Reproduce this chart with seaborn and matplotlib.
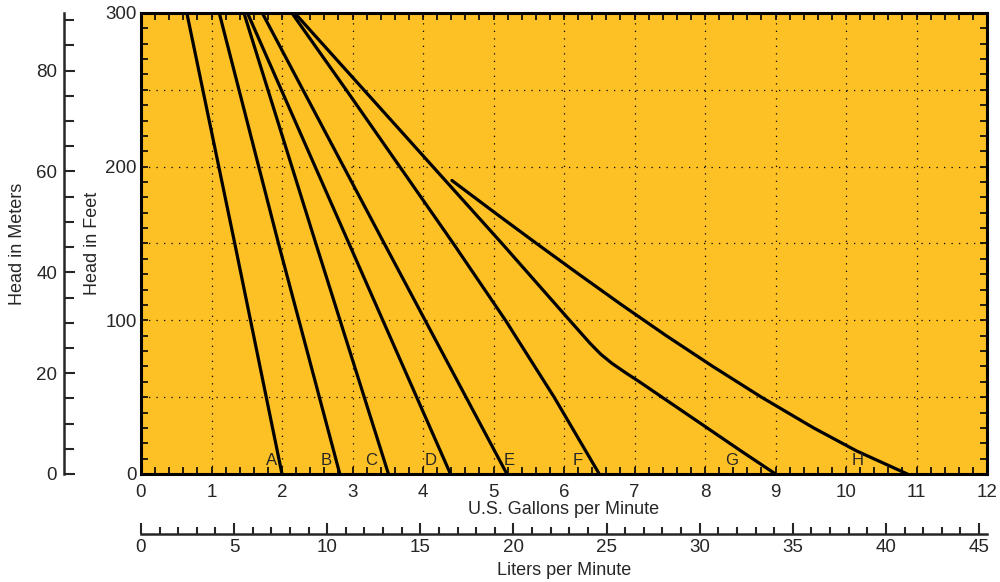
import numpy as np
import pandas as pd
import matplotlib
matplotlib.use('Agg')
import matplotlib.pyplot as plt
from matplotlib.ticker import MultipleLocator, FuncFormatter
import seaborn as sns

# Pump curves: flow (US gpm) vs head (ft)
curve_names = ['A', 'B', 'C', 'D', 'E', 'F', 'G', 'H']
gpm_A = [0.65, 1.33, 2.0]
ft_A = [300, 150, 0]
gpm_B = [1.11, 1.95, 2.82]
ft_B = [300, 150, 0]
gpm_C = [1.46, 2.48, 3.51]
ft_C = [300, 150, 0]
gpm_D = [1.51, 2.95, 4.39]
ft_D = [300, 150, 0]
gpm_E = [1.72, 3.45, 5.19]
ft_E = [300, 150, 0]
gpm_F = [2.14, 2.91, 3.67, 4.43, 5.17, 5.86, 6.5]
ft_F = [300, 250, 200, 150, 100, 50, 0]
gpm_G = [2.18, 3.16, 4.14, 5.12, 6.08, 6.37, 6.52, 6.68, 6.87, 7.07, 7.39, 8.03, 8.51, 9.0]
ft_G = [300, 250, 200, 150, 100, 85, 78, 72, 66, 60, 50, 30, 15, 0]
gpm_H = [4.41, 5.02, 5.61, 6.21, 6.82, 7.45, 8.11, 8.80, 9.54, 10.15, 10.87]
ft_H = [191, 170, 150, 130, 110, 90, 70, 50, 30, 15, 0]

# letter labels along the bottom
label_gpm = [1.85, 2.62, 3.26, 4.11, 5.22, 6.2, 8.38, 10.16]
label_ft = 8.5

curves = {
    'A': (gpm_A, ft_A), 'B': (gpm_B, ft_B), 'C': (gpm_C, ft_C), 'D': (gpm_D, ft_D),
    'E': (gpm_E, ft_E), 'F': (gpm_F, ft_F), 'G': (gpm_G, ft_G), 'H': (gpm_H, ft_H),
}

FT_TO_M = 0.3048
GAL_TO_L = 3.78541

sns.set_style('ticks')
plt.rcParams['font.family'] = ['Liberation Sans', 'DejaVu Sans']

fig = plt.figure(figsize=(10, 5.82), dpi=100)
ax = fig.add_axes([0.141, 0.1856, 0.846, 0.7921])
ax.set_facecolor('#FDC125')

for name in curve_names:
    x, y = curves[name]
    df = pd.DataFrame({'gpm': x, 'ft': y})
    sns.lineplot(data=df, x='gpm', y='ft', ax=ax, color='black', lw=2.3,
                 sort=False, estimator=None, solid_joinstyle='round',
                 solid_capstyle='round')

for name, gx in zip(curve_names, label_gpm):
    ax.text(gx, label_ft, name, ha='center', va='center', fontsize=12)

ax.set_xlim(0, 12)
ax.set_ylim(0, 300)
ax.xaxis.set_major_locator(MultipleLocator(1))
ax.xaxis.set_minor_locator(MultipleLocator(0.2))
ax.yaxis.set_major_locator(MultipleLocator(50))
ax.yaxis.set_minor_locator(MultipleLocator(10))
ax.yaxis.set_major_formatter(FuncFormatter(lambda v, p: f'{v:.0f}' if v % 100 == 0 else ''))
ax.tick_params(which='both', direction='in', top=True, right=True, labelsize=13.5,
               width=1.2, color='black', length=5)
ax.tick_params(axis='x', pad=7)
ax.tick_params(axis='y', pad=3)
ax.grid(True, which='major', color='black', ls=(0, (1, 5)), lw=0.9)
for s in ax.spines.values():
    s.set_linewidth(2.2)
    s.set_color('black')

ax.set_xlabel('U.S. Gallons per Minute', fontsize=13, labelpad=0)
ax.set_ylabel('Head in Feet', fontsize=13, labelpad=3)

# meters axis on the left
sec_y = ax.secondary_yaxis(-0.091, functions=(lambda f: f * FT_TO_M, lambda m: m / FT_TO_M))
sec_y.yaxis.set_major_locator(MultipleLocator(20))
sec_y.yaxis.set_minor_locator(MultipleLocator(5))
sec_y.tick_params(which='both', direction='in', labelsize=13.5, width=1.5, pad=5)
sec_y.tick_params(which='major', length=8)
sec_y.tick_params(which='minor', length=7)
sec_y.spines['left'].set_linewidth(1.8)
sec_y.set_ylabel('Head in Meters', fontsize=13, labelpad=7)

# liters axis at the bottom
sec_x = ax.secondary_xaxis(-0.13, functions=(lambda g: g * GAL_TO_L, lambda l: l / GAL_TO_L))
sec_x.xaxis.set_major_locator(MultipleLocator(5))
sec_x.xaxis.set_minor_locator(MultipleLocator(1))
sec_x.tick_params(which='both', direction='in', labelsize=13.5, width=1.5, pad=4)
sec_x.tick_params(which='major', length=8)
sec_x.tick_params(which='minor', length=5)
sec_x.spines['bottom'].set_linewidth(1.8)
sec_x.set_xlabel('Liters per Minute', fontsize=13, labelpad=4)

fig.savefig('out.png', dpi=100)
